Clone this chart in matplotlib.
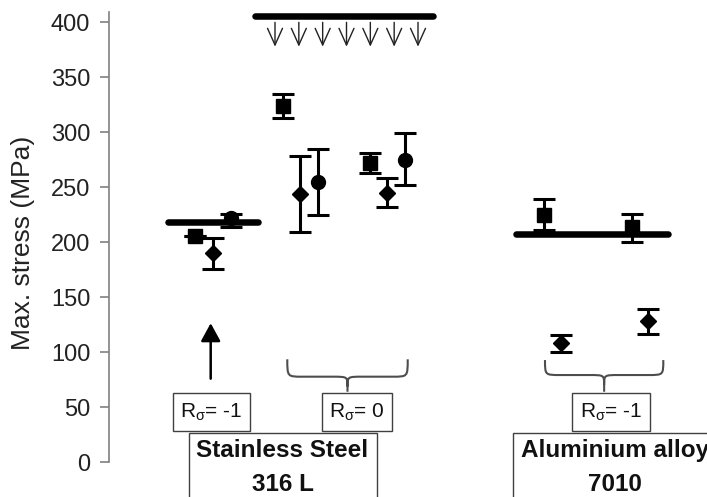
import matplotlib
matplotlib.use("Agg")
import matplotlib.pyplot as plt
import numpy as np
from matplotlib.patches import Rectangle, PathPatch
from matplotlib.path import Path

plt.rcParams["font.family"] = ["Liberation Sans", "DejaVu Sans"]
plt.rcParams["mathtext.fontset"] = "custom"
plt.rcParams["mathtext.rm"] = "Liberation Sans"
plt.rcParams["mathtext.it"] = "Liberation Sans:italic"

# --- data (x = arbitrary position along the figure, y = MPa) ---
square_x = [8.6, 17.4, 26.1, 43.5, 52.3]
square_y = [206, 324, 272, 225, 214]
square_lo = [0, 11, 9, 14, 14]
square_hi = [0, 11, 9, 14, 12]

diamond_x = [10.35, 19.1, 27.8, 45.15, 53.9]
diamond_y = [190, 244, 245, 108, 128]
diamond_lo = [14, 35, 13, 8, 11]
diamond_hi = [14, 34, 13, 8, 11]

circle_x = [12.2, 20.9, 29.6]
circle_y = [222, 255, 275]
circle_lo = [8, 30, 23]
circle_hi = [4, 30, 24]

# applied max stress levels (thick bars)
limit_y = [218, 405.5, 207]
limit_x0 = [5.9, 14.6, 40.7]
limit_x1 = [14.9, 32.4, 55.9]

yticks = [0, 50, 100, 150, 200, 250, 300, 350, 400]

fig = plt.figure(figsize=(7.07, 4.97), dpi=100)
ax = fig.add_axes([0, 0, 1, 1])
ax.set_xlim(-10.9, 59.8)
ax.set_ylim(-31.5, 420.0)

for s in ["top", "right", "bottom"]:
    ax.spines[s].set_visible(False)
ax.spines["left"].set_position(("data", 0))
ax.spines["left"].set_bounds(0, 409)
ax.spines["left"].set_color("#808080")
ax.spines["left"].set_linewidth(1.2)
ax.set_xticks([])
ax.set_yticks(yticks)
ax.tick_params(axis="y", direction="out", length=6.5, width=1.2, color="#808080",
               labelsize=17, labelcolor="#222222", pad=7)
fig.text(23 / 707, 1 - 243 / 497, "Max. stress (MPa)", rotation=90, ha="center",
         va="center", fontsize=19, color="#222222")

# thick load-level bars
for y, x0, x1 in zip(limit_y, limit_x0, limit_x1):
    ax.plot([x0, x1], [y, y], color="black", lw=4.7, solid_capstyle="round", zorder=2)

ebkw = dict(ls="none", color="black", ecolor="black", elinewidth=2.2, capsize=8,
            capthick=2.2, zorder=3)
ax.errorbar(square_x, square_y, yerr=[square_lo, square_hi], marker="s", ms=10, **ebkw)
ax.errorbar(diamond_x, diamond_y, yerr=[diamond_lo, diamond_hi], marker="D", ms=8, **ebkw)
ax.errorbar(circle_x, circle_y, yerr=[circle_lo, circle_hi], marker="o", ms=10, **ebkw)

# down arrows under the top bar
for x in np.linspace(16.6, 30.9, 7):
    ax.annotate("", xy=(x, 377.6), xytext=(x, 399.7),
                arrowprops=dict(arrowstyle="->,head_length=0.6,head_width=0.27",
                                lw=1.0, color="#222222", shrinkA=0, shrinkB=0,
                                mutation_scale=20))

# up arrow
ax.annotate("", xy=(10.17, 126.4), xytext=(10.17, 76),
            arrowprops=dict(arrowstyle="-|>,head_length=0.55,head_width=0.3",
                            lw=1.8, color="black", shrinkA=0, shrinkB=0,
                            mutation_scale=20))


def brace(x0, x1, ytop, ybar, ytip):
    xc = (x0 + x1) / 2
    rx = 1.5
    ry = 9
    verts = [(x0, ytop), (x0, ybar), (x0, ybar), (x0 + rx, ybar),
             (xc - rx, ybar), (xc, ybar), (xc, ybar), (xc, ybar - ry),
             (xc, ytip),
             (xc, ybar - ry), (xc, ybar), (xc, ybar), (xc + rx, ybar),
             (x1 - rx, ybar), (x1, ybar), (x1, ybar), (x1, ytop)]
    codes = [Path.MOVETO, Path.CURVE4, Path.CURVE4, Path.CURVE4,
             Path.LINETO, Path.CURVE4, Path.CURVE4, Path.CURVE4,
             Path.LINETO,
             Path.MOVETO, Path.CURVE4, Path.CURVE4, Path.CURVE4,
             Path.LINETO, Path.CURVE4, Path.CURVE4, Path.CURVE4]
    ax.add_patch(PathPatch(Path(verts, codes), fill=False, ec="#4d4d4d", lw=1.5))


brace(17.83, 29.87, 93.6, 77.8, 64.1)
brace(43.6, 55.43, 92.9, 79.3, 64.1)


def box(x0, x1, y0, y1, text, size, weight="normal"):
    ax.add_patch(Rectangle((x0, y0), x1 - x0, y1 - y0, fill=True, fc="white",
                           ec="#404040", lw=1.0, clip_on=False, zorder=4))
    ax.text((x0 + x1) / 2, (y0 + y1) / 2, text, ha="center", va="center",
            fontsize=size, fontweight=weight, color="#111111", zorder=5,
            linespacing=1.25)


rs = r"R$_{\mathrm{\sigma}}$"
box(6.43, 14.1, 28.3, 62.6, rs + "= -1", 15)
box(21.33, 28.27, 28.3, 62.6, rs + "= 0", 15)
box(46.33, 54.1, 28.3, 62.6, rs + "= -1", 15)

ax.add_patch(Rectangle((8.03, -40), 26.8 - 8.03, 66.7, fc="white", ec="#404040", lw=1.0,
                       clip_on=False, zorder=4))
ax.text(17.35, 10.4, "Stainless Steel", ha="center", va="center", fontsize=17.5,
        fontweight="bold", color="#111111", zorder=5)
ax.text(17.35, -20.3, "316 L", ha="center", va="center", fontsize=17.5,
        fontweight="bold", color="#111111", zorder=5)

ax.add_patch(Rectangle((40.43, -40), 25, 66.7, fc="white", ec="#404040", lw=1.0,
                       clip_on=False, zorder=4))
ax.text(50.6, 10.4, "Aluminium alloy", ha="center", va="center", fontsize=17.5,
        fontweight="bold", color="#111111", zorder=5)
ax.text(50.6, -20.3, "7010", ha="center", va="center", fontsize=17.5,
        fontweight="bold", color="#111111", zorder=5)

fig.savefig("out.png", dpi=100)
